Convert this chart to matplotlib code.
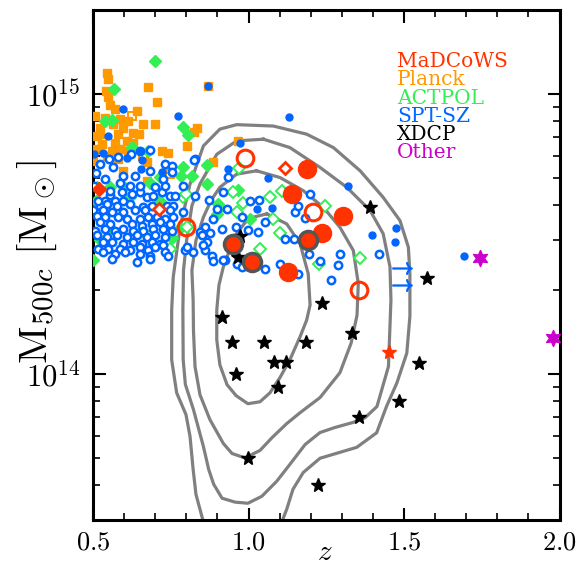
import numpy as np
import matplotlib
matplotlib.use('Agg')
import matplotlib.pyplot as plt
from matplotlib.ticker import FixedLocator, FuncFormatter, LogLocator, NullFormatter

plt.rcParams['mathtext.fontset'] = 'cm'
plt.rcParams['font.family'] = 'DejaVu Serif'

# ---- MaDCoWS (z, log10 M500c) ----
mad_fill_z = [1.188, 1.140, 1.304, 1.236, 1.127]
mad_fill_m = [14.733, 14.644, 14.566, 14.502, 14.363]
mad_edge_z = [1.191, 0.950, 1.011]          # filled, grey-edged
mad_edge_m = [14.477, 14.463, 14.399]
mad_open_z = [0.989, 1.207, 1.355, 0.799]
mad_open_m = [14.770, 14.578, 14.301, 14.525]
mad_dia_open_z = [1.117, 0.711]
mad_dia_open_m = [14.737, 14.589]
mad_dia_fill_z = [0.519]
mad_dia_fill_m = [14.660]
mad_star_z = [1.452]
mad_star_m = [14.078]

# ---- XDCP ----
xdcp_z = [1.235, 0.915, 0.946, 1.051, 1.184, 1.332, 1.083, 1.120, 0.960, 1.094,
          1.549, 1.484, 1.355, 0.999, 1.224, 1.391, 1.573, 0.973, 0.967]
xdcp_m = [14.254, 14.203, 14.113, 14.113, 14.113, 14.145, 14.042, 14.042, 14.000, 13.953,
          14.040, 13.904, 13.844, 13.700, 13.602, 14.598, 14.341, 14.491, 14.417]

# ---- Other ----
other_z = [1.744, 1.980]
other_m = [14.414, 14.127]

# ---- SPT-SZ ----
spt_lim_z = [1.494, 1.494]
spt_lim_m = [14.377, 14.317]
spt_fill_z = [0.870, 0.597, 0.774, 1.130, 0.973, 0.549, 0.531, 0.610, 0.657, 0.503,
              0.653, 1.064, 0.935, 1.319, 1.026, 1.075, 1.396, 1.474, 1.471, 1.694,
              0.650, 0.721]
spt_fill_m = [15.028, 14.946, 14.922, 14.918, 14.827, 14.851, 14.791, 14.771, 14.765, 14.785,
              14.732, 14.700, 14.732, 14.673, 14.590, 14.593, 14.495, 14.520, 14.471, 14.423,
              14.795, 14.720]
spt_open_z = [0.555, 0.592, 0.624, 0.651, 0.673, 0.694, 0.721, 0.748, 0.764, 0.828,
              0.539, 0.571, 0.597, 0.523, 0.544, 0.576, 0.619, 0.662, 0.689, 0.737,
              0.758, 0.501, 0.533, 0.560, 0.597, 0.635, 0.667, 0.748, 0.790, 0.512,
              0.539, 0.581, 0.608, 0.651, 0.678, 0.705, 0.732, 0.758, 0.523, 0.555,
              0.624, 0.657, 0.689, 0.715, 0.748, 0.506, 0.539, 0.571, 0.597, 0.630,
              0.662, 0.694, 0.726, 0.753, 0.860, 0.844, 0.512, 0.544, 0.576, 0.608,
              0.641, 0.673, 0.699, 0.732, 0.533, 0.560, 0.597, 0.630, 0.657, 0.689,
              0.715, 0.866, 0.517, 0.549, 0.587, 0.619, 0.651, 0.678, 0.699, 0.726,
              0.533, 0.571, 0.603, 0.651, 0.683, 0.732, 0.796, 0.822, 0.860, 0.882,
              0.560, 0.641, 0.683,
              0.742, 0.887, 0.924, 0.962, 1.053, 1.032,
              0.828, 0.935, 0.874, 0.919, 1.005, 1.035, 0.978, 0.930, 0.898, 0.887,
              0.960, 0.999, 1.053, 1.150, 1.160, 1.198, 1.182, 1.145, 1.117, 0.876,
              0.914, 0.850, 0.855, 0.919, 0.978, 1.101, 1.160, 1.195, 1.230, 1.289,
              1.294, 1.264, 1.421, 0.803,
              0.580, 0.623, 0.682, 0.731, 0.651, 0.552, 0.635, 0.683, 0.753, 0.753,
              0.826, 0.523, 0.565, 0.597, 0.539, 0.726, 0.732, 0.699, 0.587, 0.790,
              0.618, 0.516, 0.503, 0.651, 0.510, 0.555]
spt_open_m = [14.641, 14.649, 14.643, 14.649, 14.631, 14.637, 14.649, 14.637, 14.637, 14.637,
              14.619, 14.619, 14.619, 14.601, 14.607, 14.601, 14.607, 14.595, 14.601, 14.601,
              14.601, 14.584, 14.584, 14.578, 14.578, 14.584, 14.584, 14.584, 14.578, 14.566,
              14.560, 14.560, 14.554, 14.554, 14.560, 14.560, 14.554, 14.560, 14.542, 14.536,
              14.536, 14.530, 14.536, 14.542, 14.536, 14.512, 14.518, 14.512, 14.518, 14.512,
              14.512, 14.518, 14.518, 14.512, 14.524, 14.506, 14.495, 14.489, 14.495, 14.489,
              14.495, 14.489, 14.495, 14.489, 14.471, 14.471, 14.465, 14.471, 14.465, 14.471,
              14.465, 14.471, 14.447, 14.447, 14.447, 14.441, 14.453, 14.441, 14.453, 14.459,
              14.435, 14.430, 14.435, 14.430, 14.423, 14.435, 14.441, 14.435, 14.441, 14.423,
              14.412, 14.400, 14.412,
              14.423, 14.402, 14.406, 14.394, 14.373, 14.506,
              14.767, 14.705, 14.622, 14.649, 14.619, 14.622, 14.560, 14.590, 14.590, 14.554,
              14.524, 14.515, 14.542, 14.578, 14.601, 14.642, 14.557, 14.483, 14.483, 14.504,
              14.518, 14.495, 14.459, 14.406, 14.382, 14.394, 14.358, 14.430, 14.404, 14.388,
              14.427, 14.336, 14.427, 14.453,
              14.776, 14.785, 14.800, 14.750, 14.797, 14.768, 14.708, 14.726, 14.744, 14.720,
              14.766, 14.750, 14.738, 14.708, 14.696, 14.696, 14.673, 14.667, 14.684, 14.673,
              14.673, 14.619, 14.673, 14.673, 14.719, 14.655]

# ---- Planck ----
planck_z = [0.549, 0.542, 0.549, 0.678, 0.705, 0.571, 0.642, 0.506, 0.539, 0.587,
            0.614, 0.662, 0.699, 0.565, 0.597, 0.523, 0.630, 0.581, 0.512, 0.608,
            0.571, 0.528, 0.630, 0.587, 0.560, 0.614, 0.512, 0.721, 0.742, 0.801,
            0.825, 0.833, 0.887, 0.967, 0.871, 0.673, 0.673, 0.581, 0.544, 0.523,
            0.597, 0.500, 0.648, 0.555, 0.545]
planck_m = [15.056, 15.013, 14.989, 15.027, 14.973, 14.946, 14.940, 14.922, 14.916, 14.910,
            14.904, 14.892, 14.894, 14.892, 14.880, 14.880, 14.862, 14.857, 14.851, 14.833,
            14.827, 14.821, 14.827, 14.803, 14.797, 14.797, 14.803, 14.795, 14.788, 14.815,
            14.866, 14.880, 14.756, 14.833, 15.028, 14.756, 14.690, 14.768, 14.779, 14.856,
            14.726, 14.762, 14.858, 14.961, 15.075]
planck_open_z = [0.624, 0.662, 0.737, 0.748]
planck_open_m = [14.922, 14.779, 14.732, 14.715]

# ---- ACTPOL ----
act_fill_z = [0.699, 0.568, 0.539, 0.560, 0.790, 0.806, 0.624, 0.678, 0.790, 0.865,
              0.817, 0.783, 0.867, 0.715, 0.555, 0.512, 0.903, 1.005, 0.967, 0.906,
              0.898, 0.658, 0.555, 0.510, 0.780, 0.500, 0.715, 0.619, 0.754, 0.523,
              0.600, 0.683]
act_fill_m = [15.120, 15.019, 14.904, 14.906, 14.883, 14.854, 14.811, 14.797, 14.740, 14.746,
              14.708, 14.708, 14.680, 14.705, 14.667, 14.667, 14.607, 14.554, 14.657, 14.593,
              14.572, 14.512, 14.523, 14.619, 14.520, 14.406, 14.619, 14.633, 14.484, 14.477,
              14.669, 14.683]
act_open_z = [0.790, 0.949, 0.970, 0.981, 0.962, 1.069, 1.107, 1.080, 1.101, 1.037,
              1.246, 1.359, 1.228, 0.801, 0.748, 0.799]
act_open_m = [14.633, 14.651, 14.736, 14.611, 14.578, 14.631, 14.655, 14.554, 14.503, 14.447,
              14.601, 14.415, 14.394, 14.524, 14.448, 14.644]

# ---- density contours (z, log10 M) ----
c1_z = [0.855, 0.831, 0.822, 0.812, 0.799, 0.769, 0.753, 0.753, 0.758, 0.780,
        0.812, 0.855, 0.908, 0.962, 1.080, 1.187, 1.273, 1.359, 1.433, 1.487,
        1.514, 1.519, 1.519, 1.509, 1.477, 1.444, 1.412, 1.348, 1.230, 1.176,
        1.143, 1.123, 1.107]
c1_m = [13.470, 13.569, 13.658, 13.776, 13.854, 13.932, 14.050, 14.228, 14.346, 14.524,
        14.679, 14.815, 14.875, 14.891, 14.886, 14.857, 14.809, 14.726, 14.631, 14.548,
        14.453, 14.358, 14.206, 14.074, 13.967, 13.884, 13.789, 13.737, 13.698, 13.647,
        13.587, 13.516, 13.470]
c2_z = [1.048, 1.133, 1.230, 1.316, 1.391, 1.433, 1.455, 1.458, 1.450, 1.413,
        1.375, 1.336, 1.278, 1.230, 1.182, 1.133, 1.091, 1.043, 0.998, 0.957,
        0.915, 0.888, 0.872, 0.855, 0.823, 0.797, 0.790, 0.789, 0.791, 0.801,
        0.818, 0.844, 0.898, 0.962, 1.048]
c2_m = [14.839, 14.809, 14.738, 14.667, 14.584, 14.501, 14.382, 14.263, 14.026, 13.883,
        13.843, 13.826, 13.808, 13.790, 13.747, 13.676, 13.616, 13.562, 13.537, 13.541,
        13.555, 13.605, 13.658, 13.740, 13.872, 13.962, 14.050, 14.228, 14.370, 14.477,
        14.601, 14.679, 14.785, 14.833, 14.839]
c3_z = [1.026, 1.101, 1.176, 1.241, 1.294, 1.337, 1.353, 1.349, 1.330, 1.294,
        1.230, 1.166, 1.123, 1.076, 1.037, 0.989, 0.947, 0.919, 0.876, 0.844,
        0.828, 0.823, 0.822, 0.818, 0.831, 0.855, 0.879, 0.908, 0.962, 1.026]
c3_m = [14.726, 14.702, 14.655, 14.595, 14.524, 14.441, 14.323, 14.210, 14.110, 14.004,
        13.915, 13.861, 13.822, 13.772, 13.726, 13.699, 13.715, 13.751, 13.836, 13.925,
        14.026, 14.157, 14.263, 14.370, 14.477, 14.560, 14.619, 14.667, 14.714, 14.726]
c4_z = [1.059, 1.123, 1.166, 1.192, 1.198, 1.187, 1.166, 1.133, 1.101, 1.069,
        1.037, 0.998, 0.960, 0.931, 0.908, 0.898, 0.898, 0.905, 0.919, 0.941,
        0.962, 0.989, 1.015, 1.059]
c4_m = [14.572, 14.536, 14.465, 14.358, 14.246, 14.192, 14.133, 14.050, 13.986, 13.932,
        13.900, 13.893, 13.922, 13.961, 14.032, 14.121, 14.228, 14.317, 14.382, 14.448,
        14.501, 14.541, 14.560, 14.572]

labels = ['MaDCoWS', 'Planck', 'ACTPOL', 'SPT-SZ', 'XDCP', 'Other']
label_colors = ['#ff3300', '#ff9900', '#33ee55', '#0066ff', 'black', '#cc00cc']

RED, ORANGE, GREEN, BLUE, MAG = label_colors[0], label_colors[1], label_colors[2], label_colors[3], label_colors[5]


def M(lst):
    return 10 ** np.asarray(lst)


fig = plt.figure(figsize=(5.8, 5.71), dpi=100)
ax = fig.add_axes([93 / 580, 51 / 571, 466.5 / 580, 510 / 571])
ax.set_yscale('log')

# contours
for cz, cm in [(c1_z, c1_m), (c2_z, c2_m), (c3_z, c3_m), (c4_z, c4_m)]:
    ax.plot(cz, M(cm), color='#808080', lw=2.3, zorder=2, solid_joinstyle='round')

# Planck
ax.plot(planck_z, M(planck_m), 's', ms=6, color=ORANGE, mec=ORANGE, zorder=3)
ax.plot(planck_open_z, M(planck_open_m), 's', ms=6, mfc='none', mec=ORANGE, mew=1.5, zorder=3)
# ACTPOL
ax.plot(act_fill_z, M(act_fill_m), 'D', ms=6.5, color=GREEN, mec=GREEN, zorder=3)
ax.plot(act_open_z, M(act_open_m), 'D', ms=6, mfc='white', mec=GREEN, mew=1.4, zorder=3)
# SPT-SZ
ax.plot(spt_open_z, M(spt_open_m), 'o', ms=5.3, mfc='white', mec=BLUE, mew=1.8, zorder=4)
ax.plot(spt_fill_z, M(spt_fill_m), 'o', ms=5, color=BLUE, mec=BLUE, zorder=4)
ax.plot(spt_lim_z, M(spt_lim_m), marker=r'$\rightarrow$', ls='none', ms=14, color=BLUE, zorder=4)
# XDCP
ax.plot(xdcp_z, M(xdcp_m), '*', ms=10, color='black', mec='black', zorder=5)
# Other
ax.plot(other_z, M(other_m), marker=(6, 1, 0), ls='none', ms=12, color=MAG, mec=MAG, mew=0.8,
        zorder=5, clip_on=False)
# MaDCoWS
ax.plot(mad_open_z, M(mad_open_m), 'o', ms=12, mfc='none', mec=RED, mew=2.2, zorder=6)
ax.plot(mad_fill_z, M(mad_fill_m), 'o', ms=13, color=RED, mec=RED, zorder=6)
ax.plot(mad_edge_z, M(mad_edge_m), 'o', ms=13, mfc=RED, mec='#555555', mew=2.5, zorder=6)
ax.plot(mad_dia_open_z, M(mad_dia_open_m), 'D', ms=6.5, mfc='white', mec=RED, mew=2, zorder=6)
ax.plot(mad_dia_fill_z, M(mad_dia_fill_m), 'D', ms=7, color=RED, mec=RED, zorder=6)
ax.plot(mad_star_z, M(mad_star_m), '*', ms=10, color=RED, mec=RED, zorder=6)

# label list
for i, (lab, col) in enumerate(zip(labels, label_colors)):
    ax.text(0.652, 0.888 - i * 0.0358, lab, color=col, fontsize=14.5,
            family='DejaVu Serif', transform=ax.transAxes, va='baseline', ha='left')

ax.set_xlim(0.5, 2.0)
ax.set_ylim(3e13, 2e15)
ax.xaxis.set_major_locator(FixedLocator([0.5, 1.0, 1.5, 2.0]))
ax.xaxis.set_minor_locator(FixedLocator(np.arange(0.5, 2.01, 0.1)))
ax.xaxis.set_major_formatter(FuncFormatter(lambda v, p: r'$%.1f$' % v))
ax.yaxis.set_major_locator(LogLocator(base=10))
ax.yaxis.set_minor_locator(LogLocator(base=10, subs=np.arange(2, 10)))
ax.yaxis.set_minor_formatter(NullFormatter())
ax.yaxis.set_major_formatter(FuncFormatter(lambda v, p: r'$10^{%d}$' % round(np.log10(v))))

ax.tick_params(which='both', direction='in', top=True, right=True)
ax.tick_params(which='major', length=9, width=1.5)
ax.tick_params(which='minor', length=5, width=1.2)
ax.tick_params(axis='x', which='major', labelsize=19, pad=7)
ax.tick_params(axis='y', which='major', labelsize=22, pad=9)
for s in ax.spines.values():
    s.set_linewidth(2.2)

ax.set_xlabel(r'$z$', fontsize=21)
ax.xaxis.set_label_coords(0.497, -0.036)
ax.set_ylabel(r'$\mathrm{M}_{500c}\ [\mathrm{M}_\odot]$', fontsize=29.5)
ax.yaxis.set_label_coords(-0.072, 0.505)

fig.savefig('out.png', dpi=100)
